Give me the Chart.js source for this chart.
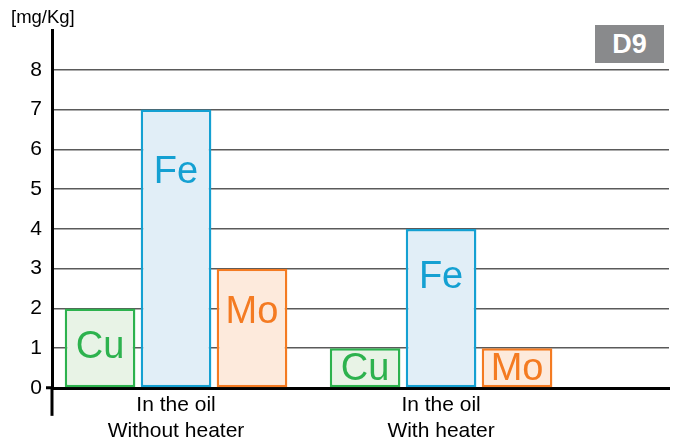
<!DOCTYPE html>
<html>
<head>
  <meta charset="UTF-8">
  <title>D9 - metals in the oil</title>
  <script src="https://cdn.jsdelivr.net/npm/chart.js"></script>
  <style>
    body { margin: 0; background: #fff; font-family: "Liberation Sans", Arial, sans-serif; }
    #wrap { position: relative; width: 676px; height: 441px; }
    #unit { position: absolute; left: 11px; top: 6px; font-size: 18.5px; color: #000; }
    #badge { position: absolute; left: 595px; top: 25px; width: 69px; height: 38px;
             background: #898a8c; color: #fff; font-weight: bold; font-size: 27px;
             line-height: 38px; text-align: center; }
  </style>
</head>
<body>
  <div id="wrap">
    <canvas id="chart" width="676" height="441"></canvas>
    <div id="unit">[mg/Kg]</div>
    <div id="badge">D9</div>
  </div>

  <script>
    // data
    const categories = [['In the oil', 'Without heater'], ['In the oil', 'With heater']];
    const cuValues = [2, 1];
    const feValues = [7, 4];
    const moValues = [3, 1];
    const yTicks = [0, 1, 2, 3, 4, 5, 6, 7, 8];

    const toPoints = vals => vals.map((v, i) => ({ x: i, y: v }));

    // element names written inside the bars
    const barLabels = {
      id: 'barLabels',
      afterDatasetsDraw(chart) {
        const ctx = chart.ctx;
        ctx.save();
        ctx.font = '38px "Liberation Sans", Arial, sans-serif';
        ctx.textAlign = 'center';
        ctx.textBaseline = 'middle';
        chart.data.datasets.forEach((ds, di) => {
          chart.getDatasetMeta(di).data.forEach(bar => {
            const h = bar.base - bar.y;
            ctx.fillStyle = ds.borderColor;
            ctx.fillText(ds.label, bar.x, bar.y + Math.min(h / 2, 0.12 * h + 28) + 2);
          });
        });
        ctx.restore();
      }
    };

    // the y axis line runs a little below zero in the original
    const axisTail = {
      id: 'axisTail',
      afterDraw(chart) {
        const y = chart.scales.y, ctx = chart.ctx;
        ctx.save();
        ctx.strokeStyle = '#000';
        ctx.lineWidth = 3;
        ctx.beginPath();
        ctx.moveTo(chart.chartArea.left, y.getPixelForValue(0));
        ctx.lineTo(chart.chartArea.left, y.getPixelForValue(-0.7));
        ctx.stroke();
        ctx.restore();
      }
    };

    new Chart(document.getElementById('chart'), {
      type: 'bar',
      data: {
        datasets: [
          { label: 'Cu', data: toPoints(cuValues), backgroundColor: '#e8f3e6', borderColor: '#2db24e' },
          { label: 'Fe', data: toPoints(feValues), backgroundColor: '#e1eef7', borderColor: '#14a0d2' },
          { label: 'Mo', data: toPoints(moValues), backgroundColor: '#fdeadc', borderColor: '#f47b22' }
        ]
      },
      options: {
        responsive: false,
        animation: false,
        layout: { padding: { top: 30, bottom: 0, right: 7, left: 0 } },
        datasets: {
          bar: { borderWidth: 2.5, borderSkipped: false, categoryPercentage: 0.86, barPercentage: 0.93 }
        },
        plugins: { legend: { display: false }, tooltip: { enabled: false } },
        scales: {
          x: {
            type: 'linear',
            position: 'bottom',
            offset: false,
            min: -0.468,
            max: 1.86,
            afterBuildTicks: s => { s.ticks = categories.map((c, i) => ({ value: i })); },
            afterFit: s => { s.height = 53; },
            grid: { display: false, offset: false, drawTicks: false },
            border: { display: true, color: '#000', width: 3 },
            ticks: {
              autoSkip: false, maxRotation: 0, padding: 5, color: '#000',
              font: { family: '"Liberation Sans", Arial, sans-serif', size: 21, lineHeight: 1.2 },
              callback: v => categories[v]
            }
          },
          y: {
            min: 0,
            max: 9,
            afterBuildTicks: s => { s.ticks = yTicks.map(v => ({ value: v })); },
            afterFit: s => { s.width = 52; },
            grid: {
              color: c => c.tick && c.tick.value === 0 ? 'transparent' : '#5a5a5a',
              lineWidth: 1.5,
              tickLength: 6,
              tickColor: c => c.tick && c.tick.value === 0 ? '#000' : 'transparent',
              tickWidth: 3
            },
            border: { display: true, color: '#000', width: 3 },
            ticks: {
              padding: 4, color: '#000',
              font: { family: '"Liberation Sans", Arial, sans-serif', size: 21 }
            }
          }
        }
      },
      plugins: [barLabels, axisTail]
    });
  </script>
</body>
</html>
